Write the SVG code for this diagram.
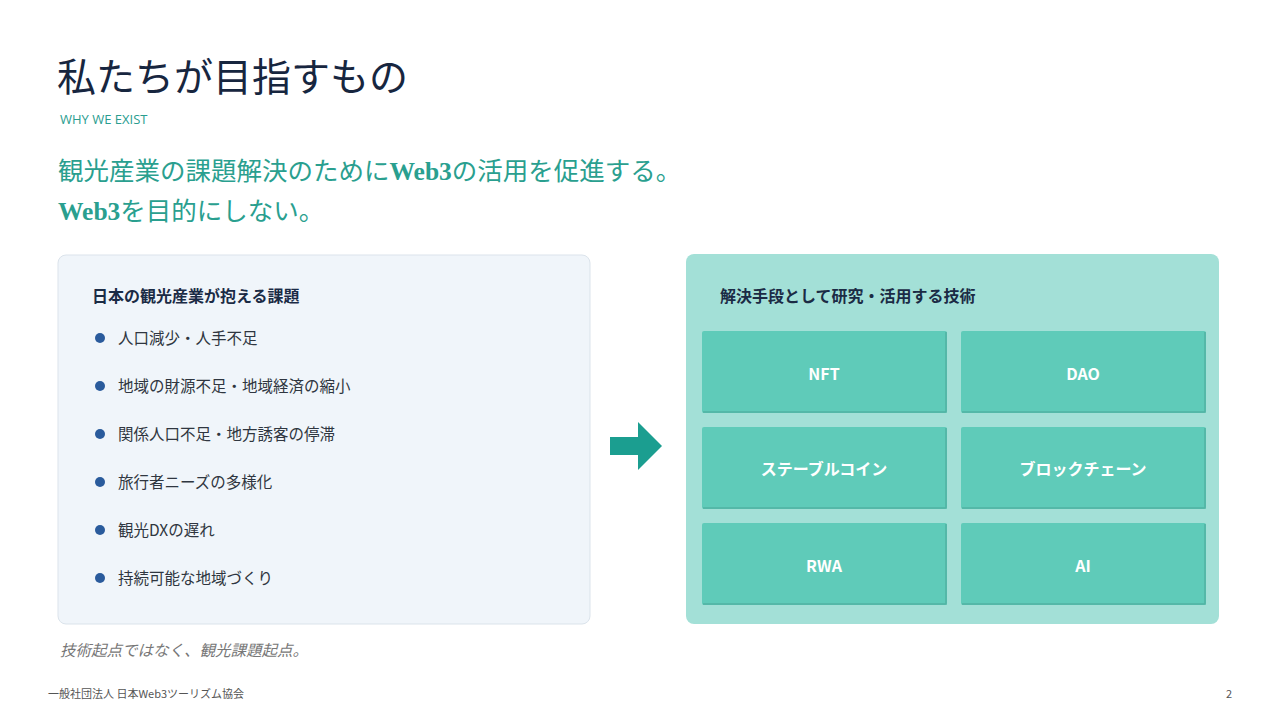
<svg xmlns="http://www.w3.org/2000/svg" width="1280" height="720" viewBox="0 0 1280 720">
<style>
.jp{font-family:"Noto Sans CJK JP","Noto Sans",sans-serif}
.title{font-size:39px;fill:#17263f;font-weight:400}
.sub{font-size:13px;fill:#2a9d8f;font-family:"Open Sans","Liberation Sans",sans-serif}
.lead{font-size:25.5px;fill:#2a9f8f;font-family:"Liberation Serif","Noto Sans CJK JP",serif}
.hdr{font-size:16px;font-weight:700;fill:#1b2b45}
.item{font-size:15.5px;fill:#2f3640}
.tile{fill:#5fcbb9}
.edge{fill:none;stroke:#52b3a3;stroke-width:1.5}
.tt{font-size:16px;font-weight:700;fill:#ffffff;text-anchor:middle;dominant-baseline:central}
.foot{font-size:11px;fill:#555}
</style>
<rect width="1280" height="720" fill="#ffffff"/>
<text class="jp title" x="57" y="91">私たちが目指すもの</text>
<text class="sub" x="60" y="124">WHY WE EXIST</text>
<text class="lead" x="58" y="180">観光産業の課題解決のために<tspan font-weight="700">Web3</tspan>の活用を促進する。</text>
<text class="lead" x="58" y="220"><tspan font-weight="700">Web3</tspan>を目的にしない。</text>
<g id="problems">
<rect x="58" y="255" width="532" height="369" rx="8" fill="#f0f5fa" stroke="#dbe3eb" stroke-width="1"/>
<text class="jp hdr" x="92" y="302">日本の観光産業が抱える課題</text>
<g fill="#2a5b9c">
<circle cx="100" cy="338" r="5"/><circle cx="100" cy="386" r="5"/><circle cx="100" cy="434" r="5"/>
<circle cx="100" cy="482" r="5"/><circle cx="100" cy="530" r="5"/><circle cx="100" cy="578" r="5"/>
</g>
<text class="jp item" x="118" y="344">人口減少・人手不足</text>
<text class="jp item" x="118" y="392">地域の財源不足・地域経済の縮小</text>
<text class="jp item" x="118" y="440">関係人口不足・地方誘客の停滞</text>
<text class="jp item" x="118" y="488">旅行者ニーズの多様化</text>
<text class="jp item" x="118" y="536">観光DXの遅れ</text>
<text class="jp item" x="118" y="584">持続可能な地域づくり</text>
</g>
<text class="jp" x="60" y="656" font-size="15.5" font-style="italic" fill="#777">技術起点ではなく、観光課題起点。</text>
<g id="connectors">
<path d="M610 437 H638 V422 L662 446 L638 470 V455 H610 Z" fill="#1b9e90"/>
</g>
<g id="tech">
<rect x="686" y="254" width="533" height="370" rx="8" fill="#a3e0d7"/>
<text class="jp hdr" x="720" y="302">解決手段として研究・活用する技術</text>
<g id="nft"><rect class="tile" x="702" y="331" width="245" height="82" rx="2"/><path class="edge" d="M946 332 V412 H703"/><text class="jp tt" x="824" y="373">NFT</text></g>
<g id="dao"><rect class="tile" x="961" y="331" width="245" height="82" rx="2"/><path class="edge" d="M1205 332 V412 H962"/><text class="jp tt" x="1083" y="373">DAO</text></g>
<g id="stable"><rect class="tile" x="702" y="427" width="245" height="82" rx="2"/><path class="edge" d="M946 428 V508 H703"/><text class="jp tt" x="824" y="468">ステーブルコイン</text></g>
<g id="chain"><rect class="tile" x="961" y="427" width="245" height="82" rx="2"/><path class="edge" d="M1205 428 V508 H962"/><text class="jp tt" x="1083" y="468">ブロックチェーン</text></g>
<g id="rwa"><rect class="tile" x="702" y="523" width="245" height="82" rx="2"/><path class="edge" d="M946 524 V604 H703"/><text class="jp tt" x="824" y="565">RWA</text></g>
<g id="ai"><rect class="tile" x="961" y="523" width="245" height="82" rx="2"/><path class="edge" d="M1205 524 V604 H962"/><text class="jp tt" x="1083" y="565">AI</text></g>
</g>
<text class="jp foot" x="48" y="698">一般社団法人 日本Web3ツーリズム協会</text>
<text class="jp foot" x="1226" y="698">2</text>
</svg>
